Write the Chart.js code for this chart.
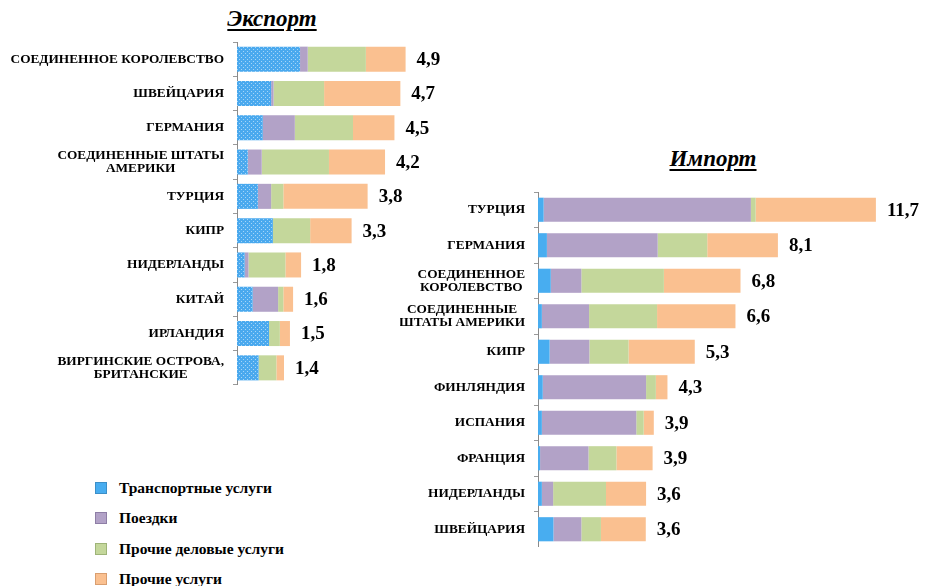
<!DOCTYPE html>
<html>
<head>
<meta charset="utf-8">
<script src="https://cdn.jsdelivr.net/npm/chart.js@4/dist/chart.umd.min.js"></script>
<style>
  body { margin: 0; background: #fff; width: 943px; height: 586px; position: relative; overflow: hidden; font-family: "Liberation Serif", "Times New Roman", serif; }
  .box { position: absolute; }
  .ttl { position: absolute; font: italic bold 23px "Liberation Serif", "Times New Roman", serif; text-decoration: underline; text-decoration-thickness: 2px; text-underline-offset: 3px; transform: translateX(-50%); white-space: nowrap; }
  #legend { position: absolute; left: 95px; top: 479px; }
  .lg { height: 30.4px; display: flex; align-items: flex-start; font: bold 15.5px "Liberation Serif", "Times New Roman", serif; line-height: 17px; }
  .lg i { display: inline-block; width: 10px; height: 10px; margin: 3px 12px 0 0; border: 1px solid; }
</style>
</head>
<body>
<div class="ttl" style="left:272px; top:6px;">Экспорт</div>
<div class="ttl" style="left:713px; top:146px;">Импорт</div>
<div class="box" style="left:0; top:40px; width:446px; height:345px;"><canvas id="exp"></canvas></div>
<div class="box" style="left:400px; top:190px; width:543px; height:357px;"><canvas id="imp"></canvas></div>
<div id="legend"></div>
<script>
// категории услуг
var seriesNames = ["Транспортные услуги", "Поездки", "Прочие деловые услуги", "Прочие услуги"];
var colors = ['#48ADF0', '#B2A2C7', '#C4D79B', '#FAC090'];
var borders = ['#3C8FC8', '#8E7EA6', '#9EB478', '#D99E70'];

// экспорт
var expCountries = ["СОЕДИНЕННОЕ КОРОЛЕВСТВО", "ШВЕЙЦАРИЯ", "ГЕРМАНИЯ", ["СОЕДИНЕННЫЕ ШТАТЫ", "АМЕРИКИ"], "ТУРЦИЯ", "КИПР", "НИДЕРЛАНДЫ", "КИТАЙ", "ИРЛАНДИЯ", ["ВИРГИНСКИЕ ОСТРОВА,", "БРИТАНСКИЕ"]];
var expTransport = [1.81, 0.98, 0.74, 0.31, 0.60, 1.03, 0.22, 0.45, 0.92, 0.62];
var expTravel    = [0.22, 0.07, 0.92, 0.40, 0.38, 0.00, 0.11, 0.73, 0.00, 0.00];
var expBusiness  = [1.67, 1.45, 1.67, 1.93, 0.35, 1.07, 1.06, 0.15, 0.31, 0.51];
var expOther     = [1.14, 2.19, 1.19, 1.61, 2.42, 1.19, 0.45, 0.28, 0.29, 0.22];
var expTotals    = [4.9, 4.7, 4.5, 4.2, 3.8, 3.3, 1.8, 1.6, 1.5, 1.4];

// импорт
var impCountries = ["ТУРЦИЯ", "ГЕРМАНИЯ", ["СОЕДИНЕННОЕ", "КОРОЛЕВСТВО"], ["СОЕДИНЕННЫЕ", "ШТАТЫ АМЕРИКИ"], "КИПР", "ФИНЛЯНДИЯ", "ИСПАНИЯ", "ФРАНЦИЯ", "НИДЕРЛАНДЫ", "ШВЕЙЦАРИЯ"];
var impTransport = [0.19, 0.30, 0.43, 0.13, 0.39, 0.16, 0.13, 0.07, 0.13, 0.52];
var impTravel    = [6.98, 3.73, 1.03, 1.59, 1.34, 3.48, 3.18, 1.63, 0.38, 0.94];
var impBusiness  = [0.16, 1.67, 2.78, 2.29, 1.32, 0.33, 0.25, 0.94, 1.78, 0.66];
var impOther     = [4.05, 2.38, 2.58, 2.64, 2.23, 0.39, 0.34, 1.22, 1.35, 1.51];
var impTotals    = [11.7, 8.1, 6.8, 6.6, 5.3, 4.3, 3.9, 3.9, 3.6, 3.6];

// точечная заливка для экспорта (транспорт)
function dotPattern() {
  var c = document.createElement('canvas');
  c.width = 4; c.height = 4;
  var g = c.getContext('2d');
  g.fillStyle = '#4AA9EE';
  g.fillRect(0, 0, 4, 4);
  g.fillStyle = '#A6D6F8';
  g.fillRect(1, 1, 1, 1);
  g.fillRect(3, 3, 1, 1);
  return g.createPattern(c, 'repeat');
}

var FONT = '"Liberation Serif", "Times New Roman", serif';

var sideText = {
  id: 'sideText',
  afterDraw: function(chart, args, opts) {
    var ctx = chart.ctx;
    var ys = chart.scales.y, xs = chart.scales.x;
    ctx.save();
    ctx.fillStyle = '#000';
    ctx.textBaseline = 'middle';
    // подписи стран
    ctx.font = 'bold 13.3px ' + FONT;
    chart.data.labels.forEach(function(lab, i) {
      var lines = Array.isArray(lab) ? lab : [lab];
      var w = 0;
      lines.forEach(function(l) { w = Math.max(w, ctx.measureText(l).width); });
      var cx = chart.chartArea.left - opts.gap - w / 2;
      var cy = ys.getPixelForValue(i);
      ctx.textAlign = 'center';
      lines.forEach(function(l, k) {
        ctx.fillText(l, cx, cy + (k - (lines.length - 1) / 2) * 13);
      });
    });
    // итоги
    ctx.font = 'bold 19px ' + FONT;
    ctx.textAlign = 'left';
    opts.totals.forEach(function(t, i) {
      var sum = 0;
      chart.data.datasets.forEach(function(d) { sum += d.data[i]; });
      ctx.fillText(t.toFixed(1).replace('.', ','), xs.getPixelForValue(sum) + 11, ys.getPixelForValue(i) + 1);
    });
    ctx.restore();
  }
};

function makeChart(id, labels, series, totals, axisW, xMax, barPct, padRight, firstColor) {
  var datasets = series.map(function(vals, i) {
    return {
      label: seriesNames[i],
      data: vals,
      backgroundColor: i === 0 ? firstColor : colors[i],
      borderWidth: 0,
      barPercentage: barPct,
      categoryPercentage: 1
    };
  });
  return new Chart(document.getElementById(id), {
    type: 'bar',
    data: { labels: labels, datasets: datasets },
    options: {
      indexAxis: 'y',
      responsive: true,
      maintainAspectRatio: false,
      animation: false,
      layout: { padding: { top: 2, right: padRight, bottom: 0, left: 0 } },
      scales: {
        x: { stacked: true, display: false, min: 0, max: xMax },
        y: {
          stacked: true,
          ticks: { display: false },
          grid: { drawOnChartArea: false, drawTicks: true, tickLength: 4, color: '#9a9a9a', offset: true },
          border: { color: '#8a8a8a', width: 1 },
          afterFit: function(s) { s.width = axisW; }
        }
      },
      plugins: {
        legend: { display: false },
        tooltip: { enabled: false },
        sideText: { totals: totals, gap: 13 }
      }
    },
    plugins: [sideText]
  });
}

makeChart('exp', expCountries, [expTransport, expTravel, expBusiness, expOther], expTotals, 237, 6, 0.73, 0, dotPattern());
makeChart('imp', impCountries, [impTransport, impTravel, impBusiness, impOther], impTotals, 138, 13, 0.68, 19, colors[0]);

// легенда
var lg = document.getElementById('legend');
seriesNames.forEach(function(n, i) {
  var row = document.createElement('div');
  row.className = 'lg';
  row.innerHTML = '<i style="background:' + colors[i] + ';border-color:' + borders[i] + '"></i>' + n;
  lg.appendChild(row);
});
</script>
</body>
</html>
